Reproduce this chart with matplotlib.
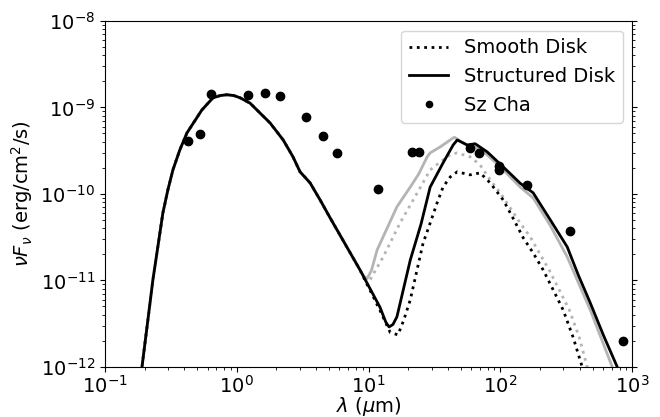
import matplotlib
matplotlib.use("Agg")
import matplotlib.pyplot as plt
import numpy as np

# Shared stellar photosphere part (wavelength in micron, nuFnu in erg/cm^2/s)
star_wl = [0.185, 0.191, 0.231, 0.275, 0.30, 0.328, 0.37, 0.419, 0.544, 0.66, 0.75, 0.84,
           0.95, 1.06, 1.26, 1.79, 2.25, 2.67, 3.02, 3.6, 4.29, 5.1, 8.61]
star_flux = [7e-13, 1.0e-12, 1.01e-11, 6.0e-11, 1.11e-10, 1.9e-10, 3.23e-10, 5.07e-10, 9.35e-10, 1.29e-9,
             1.37e-9, 1.40e-9, 1.37e-9, 1.29e-9, 1.12e-9, 6.6e-10, 4.2e-10, 2.68e-10, 1.8e-10, 1.34e-10,
             8.5e-11, 5.3e-11, 1.32e-11]

# Structured disk (black solid)
struct_wl = [12.2, 13.5, 14.3, 15.3, 16.4, 20.7, 25.0, 29.3, 36.7, 43.8, 47.0, 56.0, 64.3, 79.3,
             105, 141, 177, 239, 321, 389, 480, 603, 769, 800]
struct_flux = [4.9e-12, 3.3e-12, 2.9e-12, 3.1e-12, 3.8e-12, 1.72e-11, 4.5e-11, 1.2e-10, 2.28e-10, 3.68e-10,
               4.2e-10, 3.68e-10, 3.8e-10, 3.06e-10, 2.05e-10, 1.33e-10, 1.03e-10, 5.0e-11, 2.44e-11,
               1.16e-11, 5.5e-12, 2.34e-12, 1.0e-12, 8e-13]

# Alternative structured model (gray solid)
struct2_wl = [9.2, 9.73, 10.5, 11.6, 16.4, 20.7, 24.0, 27.8, 29.3, 34.9, 43.8, 45.0, 56.0, 64.0, 79.0,
              105, 141, 177, 239, 321, 389, 480, 705, 740]
struct2_flux = [1.12e-11, 1.05e-11, 1.3e-11, 2.25e-11, 7.1e-11, 1.2e-10, 1.7e-10, 2.68e-10, 2.98e-10, 3.49e-10,
                4.44e-10, 4.5e-10, 3.6e-10, 3.5e-10, 2.85e-10, 1.9e-10, 1.2e-10, 9e-11, 4.3e-11, 1.87e-11,
                9.5e-12, 4.56e-12, 1.0e-12, 8e-13]

# Smooth disk (black dotted)
smooth_wl = [12.2, 14.6, 16.7, 18.5, 20.7, 25.9, 29.3, 33.1, 36.7, 41.6, 47.0, 58.9, 70.2, 83.6,
             105, 125, 149, 177, 211, 251, 299, 356, 417, 430]
smooth_flux = [4.5e-12, 2.5e-12, 2.35e-12, 3.5e-12, 5.96e-12, 2.7e-11, 4.6e-11, 7.9e-11, 1.2e-10, 1.57e-10,
               1.8e-10, 1.66e-10, 1.75e-10, 1.34e-10, 8.5e-11, 5.2e-11, 3.1e-11, 2.08e-11, 1.32e-11,
               7.8e-12, 4.56e-12, 2.2e-12, 1.0e-12, 8e-13]

# Alternative smooth model (gray dotted)
smooth2_wl = [9.75, 12.9, 17.3, 23.4, 29.3, 34.9, 41.6, 47.0, 58.9, 70.2, 83.6, 99.5, 118.6, 141,
              168, 197, 234, 279, 333, 396, 455, 470]
smooth2_flux = [8.9e-12, 1.87e-11, 4.6e-11, 1.03e-10, 1.89e-10, 2.34e-10, 2.83e-10, 2.98e-10, 2.68e-10,
                2.16e-10, 1.45e-10, 1.03e-10, 6.9e-11, 4.6e-11, 3.2e-11, 2.08e-11, 1.32e-11, 7.8e-12,
                4.56e-12, 2.2e-12, 1.0e-12, 8e-13]

# Observed photometry of Sz Cha
obs_wl = [0.43, 0.53, 0.64, 1.22, 1.64, 2.13, 3.36, 4.52, 5.77, 11.8, 21.4, 24.2, 58.9, 69.0,
          97.8, 97.8, 160, 338, 855]
obs_flux = [4.1e-10, 4.9e-10, 1.43e-9, 1.40e-9, 1.47e-9, 1.36e-9, 7.8e-10, 4.7e-10, 2.98e-10, 1.14e-10,
            3.06e-10, 3.06e-10, 3.4e-10, 2.98e-10, 2.11e-10, 1.89e-10, 1.27e-10, 3.73e-11, 2.0e-12]

x_ticks = [0.1, 1, 10, 100, 1000]

fig = plt.figure(figsize=(6.6, 4.17), dpi=100)
ax = fig.add_axes([0.159, 0.12, 0.799, 0.83])

gray = '#b4b4b4'
ax.plot(star_wl + smooth2_wl, star_flux + smooth2_flux, ls=':', color=gray, lw=2)
ax.plot(star_wl + smooth_wl, star_flux + smooth_flux, ls=':', color='black', lw=2, label='Smooth Disk')
ax.plot(star_wl + struct2_wl, star_flux + struct2_flux, ls='-', color=gray, lw=2)
ax.plot(star_wl + struct_wl, star_flux + struct_flux, ls='-', color='black', lw=2, label='Structured Disk')
ax.plot(obs_wl, obs_flux, 'o', color='black', ms=6, label='Sz Cha')

ax.set_xscale('log')
ax.set_yscale('log')
ax.set_xlim(0.1, 1000)
ax.set_ylim(1e-12, 1e-8)
ax.set_xticks(x_ticks)
ax.tick_params(which='both', right=True, labelsize=14)
ax.tick_params(axis='x', pad=2)
ax.set_xlabel(r'$\lambda$ ($\mu$m)', fontsize=14, labelpad=-1)
ax.set_ylabel(r'$\nu F_\nu$ (erg/cm$^2$/s)', fontsize=14)
ax.legend(loc='upper right', fontsize=14, handlelength=2, borderaxespad=0.5, markerscale=0.75)

fig.savefig('out.png', dpi=100)
